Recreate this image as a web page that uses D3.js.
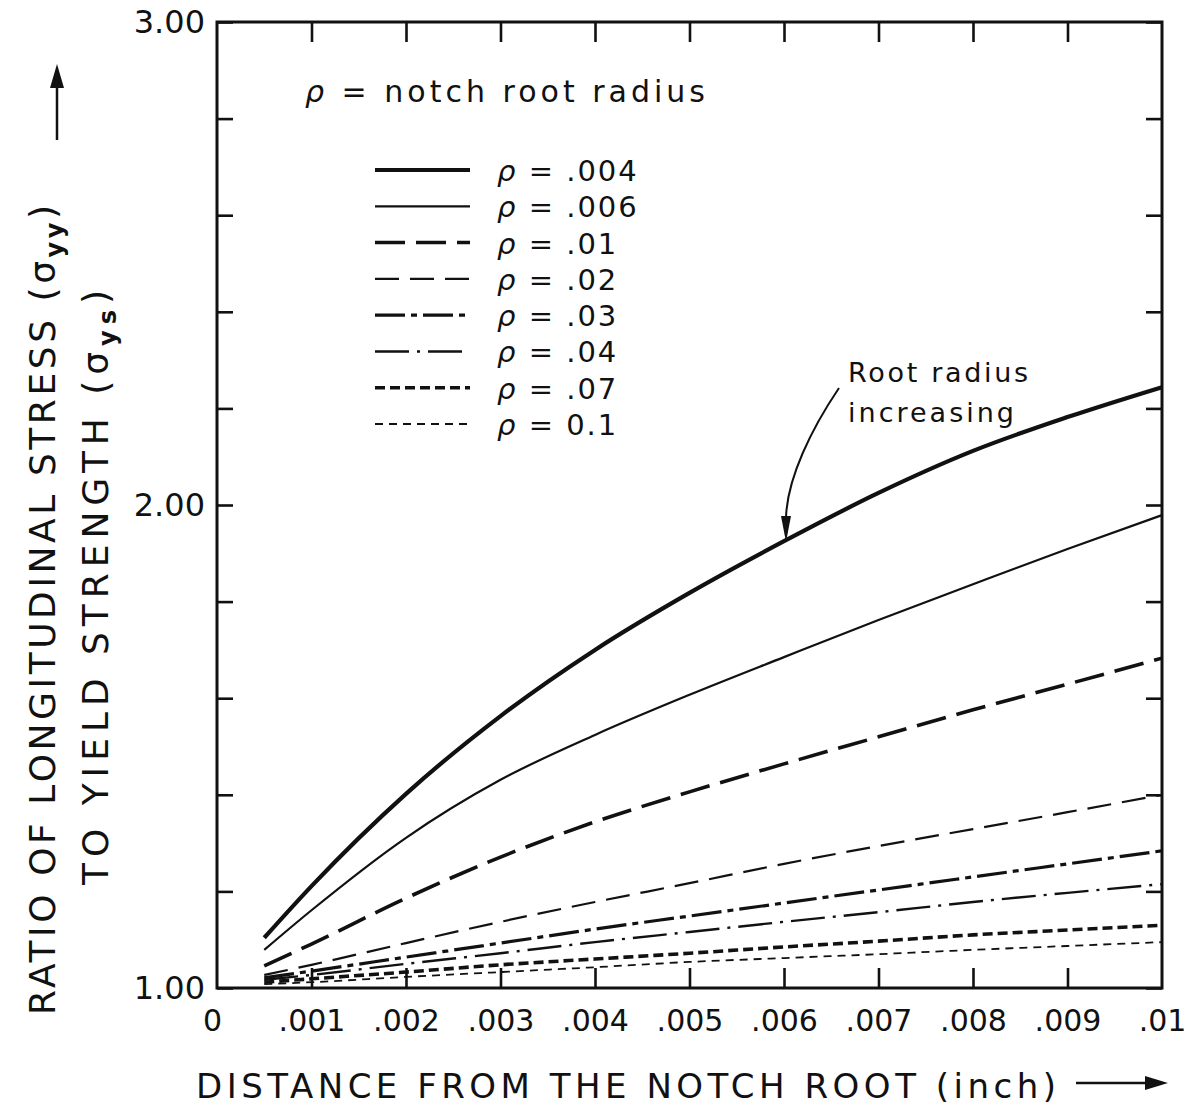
<!DOCTYPE html>
<html>
<head>
<meta charset="utf-8">
<script src="https://cdn.jsdelivr.net/npm/d3@7"></script>
<style>
  html, body { margin: 0; padding: 0; background: #fff; overflow: hidden; }
  svg { display: block; }
  text { font-family: "DejaVu Sans", "Liberation Sans", sans-serif; fill: #111; }
</style>
</head>
<body>
<svg id="chart" width="1186" height="1109"></svg>
<script>
// Distance from the notch root (inch) at which each curve is read
const distance = [0.0005, 0.001, 0.002, 0.003, 0.004, 0.005, 0.006, 0.007, 0.008, 0.009, 0.010];

// Ratio of longitudinal stress to yield strength, one array per notch root radius
const rho004 = [1.104, 1.211, 1.402, 1.563, 1.700, 1.818, 1.925, 2.025, 2.112, 2.182, 2.244];
const rho006 = [1.079, 1.161, 1.311, 1.431, 1.524, 1.607, 1.685, 1.762, 1.836, 1.909, 1.979];
const rho01  = [1.046, 1.091, 1.186, 1.271, 1.344, 1.406, 1.464, 1.520, 1.576, 1.629, 1.683];
const rho02  = [1.027, 1.048, 1.093, 1.137, 1.178, 1.217, 1.257, 1.294, 1.329, 1.364, 1.400];
const rho03  = [1.021, 1.035, 1.064, 1.093, 1.122, 1.149, 1.176, 1.203, 1.230, 1.257, 1.284];
const rho04  = [1.017, 1.027, 1.050, 1.072, 1.095, 1.116, 1.137, 1.157, 1.178, 1.197, 1.215];
const rho07  = [1.012, 1.019, 1.033, 1.048, 1.060, 1.072, 1.085, 1.097, 1.110, 1.120, 1.130];
const rho10  = [1.008, 1.012, 1.023, 1.033, 1.043, 1.054, 1.062, 1.070, 1.079, 1.087, 1.095];

const seriesNames = [".004", ".006", ".01", ".02", ".03", ".04", ".07", "0.1"];
const seriesValues = [rho004, rho006, rho01, rho02, rho03, rho04, rho07, rho10];

// Axis ticks and printed tick labels
const xTickValues = [0, 0.001, 0.002, 0.003, 0.004, 0.005, 0.006, 0.007, 0.008, 0.009, 0.010];
const xTickLabels = ["0", ".001", ".002", ".003", ".004", ".005", ".006", ".007", ".008", ".009", ".01"];
const yTickValues = [1.0, 1.2, 1.4, 1.6, 1.8, 2.0, 2.2, 2.4, 2.6, 2.8, 3.0];
const yLabelValues = [1, 2, 3];

// Line appearance for each radius (width, dash pattern)
const lineStyle = [
  { w: 4.2, dash: null },
  { w: 2.2, dash: null },
  { w: 3.6, dash: "30 11" },
  { w: 2.2, dash: "24 11" },
  { w: 3.2, dash: "30 6 6 6" },
  { w: 2.4, dash: "34 8 3 8" },
  { w: 3.6, dash: "10 5" },
  { w: 1.8, dash: "8 6" }
];

const svg = d3.select("#chart");
const plotLeft = 217, plotRight = 1162, plotTop = 22, plotBottom = 988;

const x = d3.scaleLinear().domain([0, 0.01]).range([plotLeft, plotRight]);
const y = d3.scaleLinear().domain([1, 3]).range([plotBottom, plotTop]);

// Plot frame
svg.append("rect")
  .attr("x", plotLeft).attr("y", plotTop)
  .attr("width", plotRight - plotLeft).attr("height", plotBottom - plotTop)
  .attr("fill", "none").attr("stroke", "#111").attr("stroke-width", 3);

// Inward tick marks on all four sides
function ticksOnly(axis, tx, ty) {
  const g = svg.append("g").attr("transform", `translate(${tx},${ty})`).call(axis);
  g.select(".domain").remove();
  g.selectAll(".tick line").attr("stroke", "#111").attr("stroke-width", 2.6);
  g.selectAll(".tick text").remove();
}
const innerX = xTickValues.slice(1, -1);
ticksOnly(d3.axisBottom(x).tickValues(innerX).tickSize(-20), 0, plotBottom);
ticksOnly(d3.axisTop(x).tickValues(innerX).tickSize(-20), 0, plotTop);
ticksOnly(d3.axisLeft(y).tickValues(yTickValues).tickSize(-16), plotLeft, 0);
ticksOnly(d3.axisRight(y).tickValues(yTickValues).tickSize(-16), plotRight, 0);

// Y tick labels
const yAxisLabels = svg.append("g")
  .attr("transform", `translate(${plotLeft},0)`)
  .call(d3.axisLeft(y).tickValues(yLabelValues).tickSize(0).tickPadding(12).tickFormat(d3.format(".2f")));
yAxisLabels.select(".domain").remove();
yAxisLabels.selectAll(".tick text")
  .attr("font-size", 32).attr("fill", "#111")
  .attr("font-family", "DejaVu Sans, sans-serif");

// X tick labels
const xAxisLabels = svg.append("g")
  .attr("transform", `translate(0,${plotBottom})`)
  .call(d3.axisBottom(x).tickValues(xTickValues).tickSize(0).tickPadding(22)
    .tickFormat((d, i) => xTickLabels[i]));
xAxisLabels.select(".domain").remove();
xAxisLabels.selectAll(".tick text")
  .attr("font-size", 30).attr("fill", "#111")
  .attr("font-family", "DejaVu Sans, sans-serif");
xAxisLabels.selectAll(".tick").filter(d => d === 0).select("text").attr("dx", -5);

// Curves
const line = d3.line()
  .x((d, i) => x(distance[i]))
  .y(d => y(d))
  .curve(d3.curveMonotoneX);

svg.append("g").selectAll("path")
  .data(seriesValues)
  .join("path")
  .attr("d", d => line(d))
  .attr("fill", "none")
  .attr("stroke", "#111")
  .attr("stroke-width", (d, i) => lineStyle[i].w)
  .attr("stroke-dasharray", (d, i) => lineStyle[i].dash)
  .attr("stroke-linecap", "butt");

// Legend
svg.append("text")
  .attr("x", 305).attr("y", 102)
  .attr("font-size", 30)
  .attr("textLength", 400).attr("lengthAdjust", "spacing")
  .html('<tspan font-style="italic">ρ</tspan> = notch root radius');

const legendY = d3.scalePoint().domain(seriesNames).range([170, 424]);
const legend = svg.append("g");
legend.selectAll("line")
  .data(seriesNames)
  .join("line")
  .attr("x1", 375).attr("x2", 470)
  .attr("y1", d => legendY(d)).attr("y2", d => legendY(d))
  .attr("stroke", "#111")
  .attr("stroke-width", (d, i) => lineStyle[i].w)
  .attr("stroke-dasharray", (d, i) => lineStyle[i].dash);
legend.selectAll("text")
  .data(seriesNames)
  .join("text")
  .attr("x", 497)
  .attr("y", d => legendY(d) + 11)
  .attr("font-size", 29)
  .attr("letter-spacing", 2)
  .html(d => `<tspan font-style="italic">ρ</tspan> = ${d}`);

// Annotation
svg.append("text").attr("x", 848).attr("y", 382).attr("font-size", 27)
  .attr("textLength", 180).attr("lengthAdjust", "spacing").text("Root radius");
svg.append("text").attr("x", 848).attr("y", 422).attr("font-size", 27)
  .attr("textLength", 166).attr("lengthAdjust", "spacing").text("increasing");
svg.append("path")
  .attr("d", "M839,388 C812,428 787,478 786,518")
  .attr("fill", "none").attr("stroke", "#111").attr("stroke-width", 2);
svg.append("path")
  .attr("d", "M781,516 L791,516 L786,542 Z")
  .attr("fill", "#111");

// X axis title with arrow
svg.append("text")
  .attr("x", 196).attr("y", 1098)
  .attr("font-size", 34)
  .attr("textLength", 860).attr("lengthAdjust", "spacing")
  .text("DISTANCE FROM THE NOTCH ROOT (inch)");
svg.append("line").attr("x1", 1076).attr("x2", 1150).attr("y1", 1083).attr("y2", 1083)
  .attr("stroke", "#111").attr("stroke-width", 2.5);
svg.append("path").attr("d", "M1145,1076 L1168,1083 L1145,1090 Z").attr("fill", "#111");

// Y axis title (two rotated lines) with arrow
const yTitle1 = svg.append("text")
  .attr("transform", "translate(55,1015) rotate(-90)")
  .attr("font-size", 36)
  .attr("textLength", 810).attr("lengthAdjust", "spacing");
yTitle1.append("tspan").text("RATIO OF LONGITUDINAL STRESS (σ");
yTitle1.append("tspan").attr("dy", 8).attr("font-size", 24).attr("font-weight", "bold").text("yy");
yTitle1.append("tspan").attr("dy", -8).text(")");

const yTitle2 = svg.append("text")
  .attr("transform", "translate(108,885) rotate(-90)")
  .attr("font-size", 36)
  .attr("textLength", 595).attr("lengthAdjust", "spacing");
yTitle2.append("tspan").text("TO YIELD STRENGTH (σ");
yTitle2.append("tspan").attr("dy", 8).attr("font-size", 24).attr("font-weight", "bold").text("ys");
yTitle2.append("tspan").attr("dy", -8).text(")");

svg.append("line").attr("x1", 57).attr("x2", 57).attr("y1", 140).attr("y2", 85)
  .attr("stroke", "#111").attr("stroke-width", 2.5);
svg.append("path").attr("d", "M50,88 L57,64 L64,88 Z").attr("fill", "#111");
</script>
</body>
</html>
